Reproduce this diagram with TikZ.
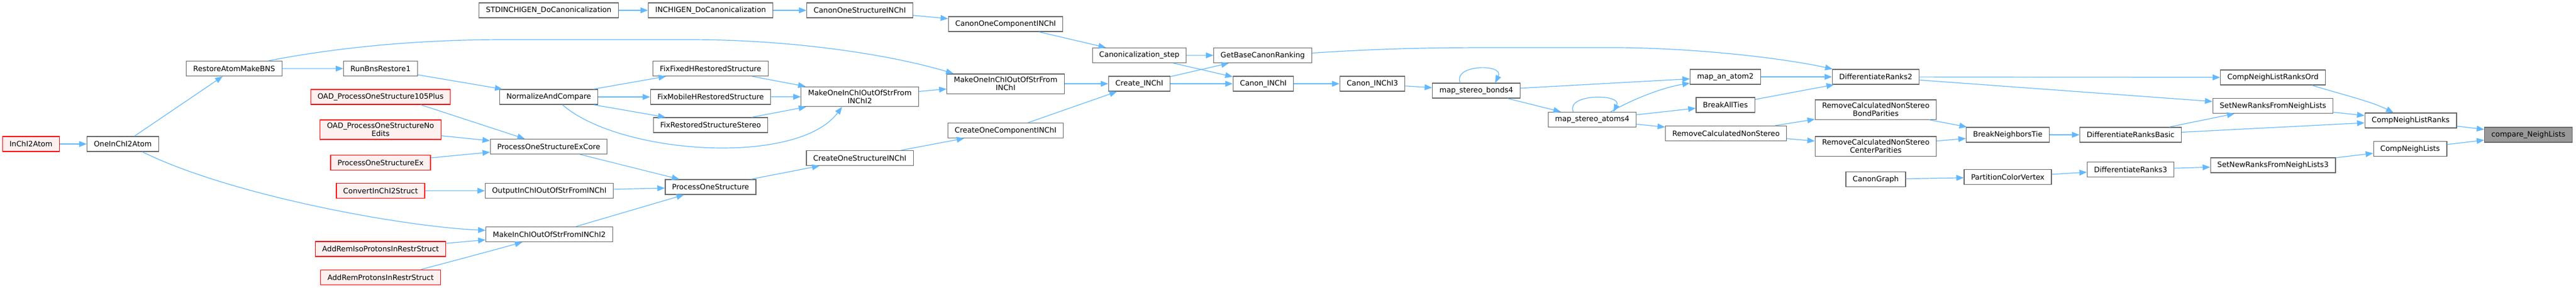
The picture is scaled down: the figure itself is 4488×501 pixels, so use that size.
\documentclass[tikz,border=0pt]{standalone}
\usepackage{fontspec}
\setmainfont{DejaVu Sans}
\usepackage{tikz}
\usetikzlibrary{arrows.meta,shapes}
\definecolor{callblue}{HTML}{63B8FF}
\definecolor{redfill}{HTML}{FFF0F0}
\definecolor{boxgray}{HTML}{666666}
\definecolor{curfill}{HTML}{999999}
\tikzset {>={Triangle[length=13pt,width=10pt]}}
\tikzset{
  fn/.style={draw=boxgray, fill=white, line width=1.3pt, font=\fontsize{12.8}{14.4}\selectfont,
    inner xsep=12pt, inner ysep=5pt, minimum height=26pt, align=center},
  fnred/.style={fn, draw=red, fill=redfill},
  fncur/.style={fn, fill=curfill},
  call/.style={->, draw=callblue, line width=1.2pt}
}

\begin{document}
\begin{tikzpicture}[x=1pt,y=-1pt]
\useasboundingbox (0,0) rectangle (4488,501);
\node[fnred] (inchi2atom) at (54,251) {InChI2Atom};
\node[fn] (oneinchi) at (214,251) {OneInChI2Atom};
\node[fn] (restorebns) at (408,119.5) {RestoreAtomMakeBNS};
\node[fn] (runbns) at (663,119.5) {RunBnsRestore1};
\node[fnred] (oad105) at (663,169) {OAD\_ProcessOneStructure105Plus};
\node[fnred] (oadnoedits) at (663,226) {OAD\_ProcessOneStructureNo\\Edits};
\node[fnred] (psex) at (663,283.5) {ProcessOneStructureEx};
\node[fnred] (convert) at (663,332.5) {ConvertInChI2Struct};
\node[fnred] (addiso) at (663,434) {AddRemIsoProtonsInRestrStruct};
\node[fnred] (addrem) at (663,483.5) {AddRemProtonsInRestrStruct};
\node[fn] (stdgen) at (956,18) {STDINCHIGEN\_DoCanonicalization};
\node[fn] (nac) at (956,169) {NormalizeAndCompare};
\node[fn] (psexcore) at (956,255.5) {ProcessOneStructureExCore};
\node[fn] (outinchi) at (957,332.5) {OutputInChIOutOfStrFromINChI};
\node[fn] (makeinchi2) at (957,408.5) {MakeInChIOutOfStrFromINChI2};
\node[fn] (inchigen) at (1238,18) {INCHIGEN\_DoCanonicalization};
\node[fn] (fixfixed) at (1238,119.5) {FixFixedHRestoredStructure};
\node[fn] (fixmobile) at (1238,169) {FixMobileHRestoredStructure};
\node[fn] (fixstereo) at (1238,218) {FixRestoredStructureStereo};
\node[fn] (processone) at (1238,326) {ProcessOneStructure};
\node[fn] (canononestruct) at (1498,18) {CanonOneStructureINChI};
\node[fn] (makeoneinchi2) at (1498,168.5) {MakeOneInChIOutOfStrFrom\\INChI2};
\node[fn] (createonestruct) at (1498,275.5) {CreateOneStructureINChI};
\node[fn] (canononecomp) at (1752,42) {CanonOneComponentINChI};
\node[fn] (makeoneinchi) at (1752,146) {MakeOneInChIOutOfStrFrom\\INChI};
\node[fn] (createonecomp) at (1752,227.5) {CreateOneComponentINChI};
\node[fn] (canonstep) at (1985,96.5) {Canonicalization\_step};
\node[fn] (createinchi) at (1985,146) {Create\_INChI};
\node[fn] (getbase) at (2200,96.5) {GetBaseCanonRanking};
\node[fn] (canoninchi) at (2201,146) {Canon\_INChI};
\node[fn] (canoninchi3) at (2391,146) {Canon\_INChI3};
\node[fn] (msb4) at (2572,158) {map\_stereo\_bonds4};
\node[fn] (msa4) at (2774,208.5) {map\_stereo\_atoms4};
\node[fn] (mapatom) at (3006,134) {map\_an\_atom2};
\node[fn] (breakall) at (3006,183) {BreakAllTies};
\node[fn] (removecalc) at (3007,232.5) {RemoveCalculatedNonStereo};
\node[fn] (diffranks2) at (3268,134) {DifferentiateRanks2};
\node[fn] (rcnsbond) at (3268,191) {RemoveCalculatedNonStereo\\BondParities};
\node[fn] (rcnscenter) at (3268,255) {RemoveCalculatedNonStereo\\CenterParities};
\node[fn] (canongraph) at (3268,312.5) {CanonGraph};
\node[fn] (breakneigh) at (3498,235) {BreakNeighborsTie};
\node[fn] (partition) at (3498,308.5) {PartitionColorVertex};
\node[fn] (diffbasic) at (3712,235) {DifferentiateRanksBasic};
\node[fn] (diffranks3) at (3712,295.5) {DifferentiateRanks3};
\node[fn] (cnlro) at (3960,135) {CompNeighListRanksOrd};
\node[fn] (setnew) at (3960,184.5) {SetNewRanksFromNeighLists};
\node[fn] (setnew3) at (3960,288) {SetNewRanksFromNeighLists3};
\node[fn] (cnlr) at (4200,210) {CompNeighListRanks};
\node[fn] (cnl) at (4199,259.5) {CompNeighLists};
\node[fncur] (compare) at (4405,235) {compare\_NeighLists};

\draw[call] (inchi2atom) -- (oneinchi);
\draw[call] (oneinchi) -- (restorebns);
\draw[call] ([xshift=34pt]oneinchi.south) .. controls (400,340) and (700,395) .. ([yshift=7pt]makeinchi2.west);
\draw[call] (restorebns) -- (runbns);
\draw[call] ([xshift=60pt]restorebns.north) .. controls (560,88) and (700,69) .. (880,69) -- (1200,69)
  .. controls (1380,69) and (1550,95) .. ([xshift=12pt]makeoneinchi.north west);
\draw[call] (runbns) -- (nac);
\draw[call] ([xshift=70pt]oad105.south) -- (psexcore);
\draw[call] (oadnoedits) -- (psexcore);
\draw[call] (psex) -- (psexcore);
\draw[call] (convert) -- (outinchi);
\draw[call] (addiso) -- (makeinchi2);
\draw[call] ([xshift=70pt]addrem.north) .. controls (800,452) and (860,436) .. ([xshift=-47pt]makeinchi2.south);
\draw[call] (nac) -- (fixfixed);
\draw[call] (nac) -- (fixmobile);
\draw[call] (nac) -- (fixstereo);
\draw[call] ([xshift=24pt]nac.south) .. controls (1080,270) and (1390,290) .. ([xshift=-31pt]makeoneinchi2.south);
\draw[call] (fixfixed) -- (makeoneinchi2);
\draw[call] (fixmobile) -- (makeoneinchi2);
\draw[call] (fixstereo) -- (makeoneinchi2);
\draw[call] (psexcore) -- (processone);
\draw[call] (outinchi) -- (processone);
\draw[call] (makeinchi2) -- (processone);
\draw[call] (processone) -- (createonestruct);
\draw[call] (stdgen) -- (inchigen);
\draw[call] (inchigen) -- (canononestruct);
\draw[call] (canononestruct) -- (canononecomp);
\draw[call] (makeoneinchi2) -- (makeoneinchi);
\draw[call] (createonestruct) -- (createonecomp);
\draw[call] (canononecomp) -- (canonstep);
\draw[call] (makeoneinchi) -- (createinchi);
\draw[call] (createonecomp) -- (createinchi);
\draw[call] (canonstep) -- (getbase);
\draw[call] (canonstep) -- (canoninchi);
\draw[call] (createinchi) -- (getbase);
\draw[call] (createinchi) -- (canoninchi);
\draw[call] ([yshift=4pt]getbase.east) .. controls (2400,85) and (2480,83) .. (2600,83) -- (2820,83)
  .. controls (2950,84) and (3100,100) .. ([xshift=1pt]diffranks2.north west);
\draw[call] (canoninchi) -- (canoninchi3);
\draw[call] (canoninchi3) -- (msb4);
\draw[call] ([xshift=-28pt]msb4.north) .. controls +(-14,-32) and +(16,-34) .. ([xshift=33pt]msb4.north);
\draw[call] (msb4) -- (mapatom);
\draw[call] (msb4) -- (msa4);
\draw[call] ([xshift=-33pt]msa4.north) .. controls +(-14,-32) and +(16,-32) .. ([xshift=37pt]msa4.north);
\draw[call] ([xshift=32pt]msa4.north) .. controls (2850,170) and (2900,152) .. ([yshift=-11pt]mapatom.west);
\draw[call] (msa4) -- (breakall);
\draw[call] (msa4) -- (removecalc);
\draw[call] (mapatom) -- (diffranks2);
\draw[call] (breakall) -- (diffranks2);
\draw[call] (removecalc) -- (rcnsbond);
\draw[call] (removecalc) -- (rcnscenter);
\draw[call] (rcnsbond) -- (breakneigh);
\draw[call] (rcnscenter) -- (breakneigh);
\draw[call] (breakneigh) -- (diffbasic);
\draw[call] (canongraph) -- (partition);
\draw[call] (partition) -- (diffranks3);
\draw[call] (diffranks2) -- (cnlro);
\draw[call] (diffranks2) -- (setnew);
\draw[call] (diffbasic) -- (setnew);
\draw[call] (diffbasic) -- (cnlr);
\draw[call] (diffranks3) -- (setnew3);
\draw[call] ([xshift=68pt]cnlro.south) .. controls (4070,162) and (4130,176) .. ([xshift=-30pt]cnlr.north);
\draw[call] (setnew) -- (cnlr);
\draw[call] (cnlr) -- (compare);
\draw[call] (cnl) -- (compare);
\draw[call] (setnew3) -- (cnl);
\end{tikzpicture}
\end{document}
